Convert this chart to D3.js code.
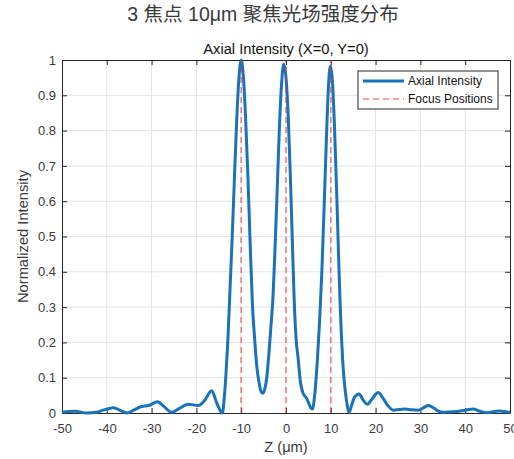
<!DOCTYPE html>
<html lang="zh">
<head>
<meta charset="UTF-8">
<script src="https://d3js.org/d3.v7.min.js"></script>
<title>3 焦点 10μm 聚焦光场强度分布</title>
<style>
    body { margin: 0; background: #fff; }
    svg { display: block; font-family: "Liberation Sans", Arial, "Noto Sans CJK SC", sans-serif; }
</style>
</head>
<body>
<div id="chart"></div>
<script>
    // values
    var zValues = [-50, -47.1, -44.5, -42, -40.8, -38.5, -36.8, -35.5, -34, -32.6, -30.5, -28.7, -27.2, -25.5,
        -23.8, -21.8, -19.6, -18.2, -16.6, -15.5, -14.9, -14.2, -13.8, -13.4, -13.0, -12.5, -12.0, -11.5,
        -11.0, -10.5, -10.0, -9.5, -9.0, -8.5, -8.0, -7.5, -7.0, -6.5, -6.0, -5.6, -5.2, -4.8, -4.3, -3.8,
        -3.4, -2.9, -2.5, -2.0, -1.5, -1.0, -0.5, 0.0, 0.5, 1.0, 1.5, 1.8, 2.2, 2.75, 3.2, 3.7, 4.2, 4.6,
        5.0, 5.5, 5.9, 6.4, 7.0, 7.5, 8.0, 8.5, 9.0, 9.5, 9.9, 10.3, 10.8, 11.3, 11.7, 12.05, 12.4, 12.65,
        13.0, 13.5, 14.1, 14.6, 15.3, 16.3, 17.3, 18.2, 19.2, 20.6, 21.5, 22.5, 24, 25.3, 26.6, 28, 29.5,
        30.7, 31.8, 33, 34, 35.1, 36.5, 38.1, 40, 41.8, 43.3, 44.8, 46, 47.4, 48.7, 50];
    var intensityValues = [0.002, 0.005, 0.0, 0.003, 0.008, 0.015, 0.006, 0.0, 0.008, 0.017, 0.022, 0.032, 0.018, 0.002,
        0.013, 0.025, 0.021, 0.035, 0.063, 0.03, 0.012, 0.0, 0.04, 0.11, 0.2, 0.35, 0.5, 0.67,
        0.83, 0.95, 1.0, 0.95, 0.83, 0.67, 0.48, 0.31, 0.21, 0.13, 0.085, 0.062, 0.056, 0.065, 0.10, 0.17,
        0.24, 0.33, 0.45, 0.62, 0.80, 0.93, 0.989, 0.95, 0.84, 0.66, 0.45, 0.33, 0.22, 0.15, 0.09, 0.06, 0.048, 0.042,
        0.03, 0.015, 0.011, 0.05, 0.15, 0.26, 0.40, 0.58, 0.77, 0.93, 0.983, 0.95, 0.82, 0.63, 0.46, 0.32, 0.21, 0.15,
        0.09, 0.035, 0.002, 0.02, 0.045, 0.054, 0.035, 0.025, 0.04, 0.058, 0.045, 0.025, 0.008, 0.01, 0.011, 0.009, 0.008,
        0.015, 0.021, 0.014, 0.005, 0.002, 0.003, 0.004, 0.008, 0.011, 0.005, 0.001, 0.003, 0.006, 0.004, 0.002];
    var focusPositions = [-10, 0, 10];
    var xTicks = [-50, -40, -30, -20, -10, 0, 10, 20, 30, 40, 50];
    var yTicks = [0, 0.1, 0.2, 0.3, 0.4, 0.5, 0.6, 0.7, 0.8, 0.9, 1];
    var legendLabels = ["Axial Intensity", "Focus Positions"];

    var data = zValues.map(function (z, i) { return { z: z, v: intensityValues[i] }; });

    var width = 514, height = 459;
    var plotLeft = 62, plotRight = 510, plotTop = 60, plotBottom = 413;
    var axisColor = "#262626";

    var svg = d3.select("#chart").append("svg")
        .attr("width", width)
        .attr("height", height);

    var x = d3.scaleLinear().domain([-50, 50]).range([plotLeft, plotRight]);
    var y = d3.scaleLinear().domain([0, 1]).range([plotBottom, plotTop]);

    //grid
    svg.append("g").selectAll("line").data(xTicks.slice(1, -1)).join("line")
        .attr("x1", function (d) { return x(d); }).attr("x2", function (d) { return x(d); })
        .attr("y1", plotTop).attr("y2", plotBottom)
        .attr("stroke", "#e3e3e3").attr("stroke-width", 1);
    svg.append("g").selectAll("line").data(yTicks.slice(1, -1)).join("line")
        .attr("y1", function (d) { return y(d); }).attr("y2", function (d) { return y(d); })
        .attr("x1", plotLeft).attr("x2", plotRight)
        .attr("stroke", "#e3e3e3").attr("stroke-width", 1);

    //axes (ticks inside like matlab)
    svg.append("g")
        .attr("transform", "translate(0," + plotBottom + ")")
        .call(d3.axisBottom(x).tickValues(xTicks).tickSizeInner(-5).tickSizeOuter(0).tickPadding(11)
            .tickFormat(function (d) { return String(d); }));
    svg.append("g")
        .attr("transform", "translate(" + plotLeft + ",0)")
        .call(d3.axisLeft(y).tickValues(yTicks).tickSizeInner(-5).tickSizeOuter(0).tickPadding(6)
            .tickFormat(function (d) { return String(d); }));
    svg.append("g")
        .attr("transform", "translate(0," + plotTop + ")")
        .call(d3.axisTop(x).tickValues(xTicks).tickSizeInner(-5).tickSizeOuter(0).tickFormat(""));
    svg.append("g")
        .attr("transform", "translate(" + plotRight + ",0)")
        .call(d3.axisRight(y).tickValues(yTicks).tickSizeInner(-5).tickSizeOuter(0).tickFormat(""));

    svg.selectAll(".domain").attr("stroke", axisColor);
    svg.selectAll(".tick line").attr("stroke", axisColor);
    svg.selectAll(".tick text")
        .attr("fill", "#3a3a3a")
        .attr("font-size", "13px")
        .attr("font-family", "Liberation Sans, Arial, sans-serif");

    //intensity curve
    var line = d3.line()
        .x(function (d) { return x(d.z); })
        .y(function (d) { return y(d.v); })
        .curve(d3.curveMonotoneX);

    svg.append("path")
        .datum(data)
        .attr("d", line)
        .attr("fill", "none")
        .attr("stroke", "#1a72b8")
        .attr("stroke-width", 3)
        .attr("stroke-linejoin", "round");

    //focus positions
    svg.append("g").selectAll("line").data(focusPositions).join("line")
        .attr("x1", function (d) { return x(d); }).attr("x2", function (d) { return x(d); })
        .attr("y1", y(0)).attr("y2", y(1))
        .attr("stroke", "#e8363c")
        .attr("stroke-opacity", 0.6)
        .attr("stroke-width", 1.6)
        .attr("stroke-dasharray", "6,4");

    //titles
    svg.append("text")
        .attr("x", 263).attr("y", 21)
        .attr("text-anchor", "middle")
        .attr("font-size", "19.5px")
        .attr("fill", "#3a3a3a")
        .attr("font-family", "Liberation Sans, Noto Sans CJK SC, sans-serif")
        .text("3 焦点 10μm 聚焦光场强度分布");
    svg.append("text")
        .attr("x", (plotLeft + plotRight) / 2).attr("y", 54)
        .attr("text-anchor", "middle")
        .attr("font-size", "14.7px")
        .attr("fill", "#111")
        .text("Axial Intensity (X=0, Y=0)");
    svg.append("text")
        .attr("x", (plotLeft + plotRight) / 2).attr("y", 452)
        .attr("text-anchor", "middle")
        .attr("font-size", "14.7px")
        .attr("fill", "#3a3a3a")
        .text("Z (μm)");
    svg.append("text")
        .attr("transform", "translate(28," + ((plotTop + plotBottom) / 2) + ") rotate(-90)")
        .attr("text-anchor", "middle")
        .attr("font-size", "14.7px")
        .attr("fill", "#3a3a3a")
        .text("Normalized Intensity");

    //legend
    var legend = svg.append("g").attr("transform", "translate(358,71)");
    legend.append("rect")
        .attr("width", 140).attr("height", 38)
        .attr("fill", "#fff")
        .attr("stroke", axisColor).attr("stroke-width", 1);
    legend.append("line")
        .attr("x1", 5).attr("x2", 46).attr("y1", 10).attr("y2", 10)
        .attr("stroke", "#1a72b8").attr("stroke-width", 3);
    legend.append("line")
        .attr("x1", 5).attr("x2", 46).attr("y1", 28).attr("y2", 28)
        .attr("stroke", "#e8363c").attr("stroke-opacity", 0.6)
        .attr("stroke-width", 1.6).attr("stroke-dasharray", "6,4");
    legend.selectAll("text").data(legendLabels).join("text")
        .attr("x", 50)
        .attr("y", function (d, i) { return 14 + i * 18; })
        .attr("font-size", "12px")
        .attr("fill", "#111")
        .text(function (d) { return d; });
</script>
</body>
</html>
